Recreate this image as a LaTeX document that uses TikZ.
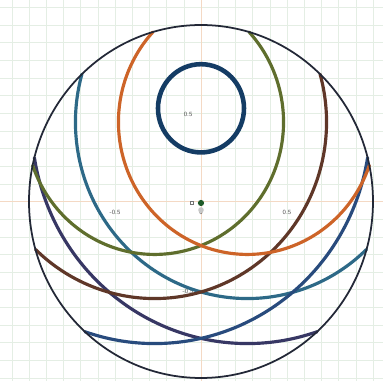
\documentclass[tikz,border=0pt]{standalone}
\usepackage{tikz}
\usetikzlibrary{calc}
\definecolor{rim}{HTML}{232837}
\definecolor{ring}{HTML}{143C64}
\definecolor{rust}{HTML}{CD6428}
\definecolor{moss}{HTML}{5F6E2D}
\definecolor{steel}{HTML}{2D6987}
\definecolor{umber}{HTML}{5F3728}
\definecolor{dusk}{HTML}{373764}
\definecolor{cobalt}{HTML}{284B7D}
\definecolor{dotgreen}{HTML}{1E5A28}
\definecolor{gridline}{HTML}{E4EEE4}
\definecolor{axisline}{HTML}{F4D9C4}
\tikzset{
  arcline/.style={line width=0.9pt,line cap=round},
  ticklabel/.style={font=\fontsize{1.8}{2}\selectfont\sffamily,text=black!70,inner sep=0pt}
}

\begin{document}
\begin{tikzpicture}[x=1.72cm,y=1.765cm]
\useasboundingbox (-2.01cm,-1.795cm) rectangle (1.82cm,2.015cm);
\fill[white] (-2.01cm,-1.795cm) rectangle (1.82cm,2.015cm);
% faint grid, one line every 0.1
\foreach \g in {-12,...,11} {
  \draw[gridline,line width=0.15pt] (\g/10,-1.1) -- (\g/10,1.2);
  \draw[gridline,line width=0.15pt] (-1.2,\g/10) -- (1.1,\g/10);
}
\draw[axisline,line width=0.25pt] (-1.2,0) -- (1.1,0);
\draw[axisline,line width=0.25pt] (0,-1.1) -- (0,1.2);
\node[ticklabel] (xm) at (-0.5,-0.06) {-0.5};
\node[ticklabel] (x0) at (0,-0.06) {0};
\node[ticklabel] (xp) at (0.5,-0.06) {0.5};
\node[ticklabel] (yp) at (-0.075,0.496) {0.5};
\node[ticklabel] (ym) at (-0.075,-0.507) {-0.5};
% arcs of circles about (+-0.27,0.45), cut off at the unit circle
\foreach \r/\s/\e/\c in {1.255/189.25/288.83/dusk,1/164.25/313.83/steel}
  \draw[arcline,\c,domain=\s:\e,samples=120] plot ({0.27+\r*cos(\x)},{0.45+\r*sin(\x)});
\foreach \r/\s/\e/\c in {1.255/-108.83/-9.25/cobalt,1/-133.83/15.75/umber,0.75/-160.92/42.84/moss}
  \draw[arcline,\c,domain=\s:\e,samples=120] plot ({-0.27+\r*cos(\x)},{0.45+\r*sin(\x)});
\draw[arcline,rust,domain=137.16:340.92,samples=120] plot ({0.27+0.75*cos(\x)},{0.45+0.75*sin(\x)});
\draw[ring,line width=1.3pt] (0,0.528) circle[radius=0.25];
\draw[rim,line width=0.5pt] (0,0) circle[radius=1];
% the origin point
\coordinate (O) at (0,0);
\fill[black!22] ($(O)+(0cm,-0.085cm)$) circle[radius=0.028cm];
\node[circle,fill=dotgreen,minimum size=0.062cm,inner sep=0pt] (P) at ($(O)+(0cm,-0.015cm)$) {};
\node[draw=black!55,line width=0.1pt,minimum size=0.028cm,inner sep=0pt] (Osq) at ($(O)+(-0.09cm,-0.015cm)$) {};
\end{tikzpicture}
\end{document}
